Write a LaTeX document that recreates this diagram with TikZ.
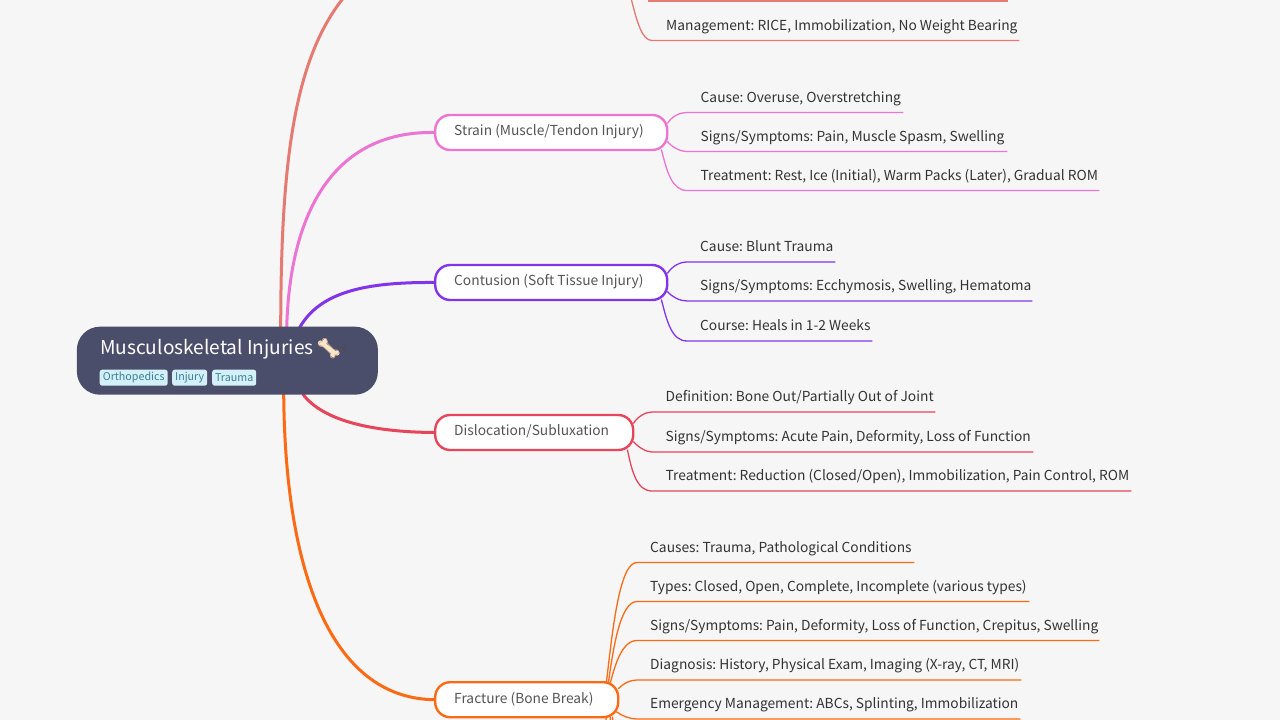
\documentclass[tikz,border=0pt]{standalone}
\usepackage{fontspec}
\setmainfont{Noto Sans CJK SC}
\newfontfamily\emojifont{Noto Emoji}
\newfontfamily\symfont{DejaVu Sans}
\usetikzlibrary{calc}
\definecolor{bgc}{HTML}{F6F6F6}
\definecolor{rootc}{HTML}{4B4E6A}
\definecolor{tagc}{HTML}{D3F0F8}
\definecolor{tagt}{HTML}{3C7F96}
\definecolor{salm}{HTML}{E57A72}
\definecolor{pinkc}{HTML}{EC74D3}
\definecolor{purp}{HTML}{8134EA}
\definecolor{redc}{HTML}{E6455A}
\definecolor{oran}{HTML}{FD6A13}
\definecolor{leaft}{HTML}{333333}
\definecolor{brt}{HTML}{555555}
\definecolor{bonec}{HTML}{F6E6CC}
\definecolor{bonel}{HTML}{E3B98E}
\frenchspacing
\tikzset{
  x=1pt,y=-1pt,
  rootbox/.style={fill=rootc,rounded corners=23pt,minimum width=301pt,minimum height=68pt,inner sep=0pt,anchor=north west},
  tagbox/.style={fill=tagc,rounded corners=2.5pt,minimum height=16pt,inner sep=0pt,anchor=north west,text=tagt,font=\fontsize{10.7}{12}\selectfont},
  branch/.style={draw=#1,line width=2.4pt,fill=white,rounded corners=15pt,minimum height=35pt,inner sep=0pt,anchor=north west},
  brtext/.style={anchor=base west,inner sep=0pt,text=brt,font=\fontsize{13.78}{16}\selectfont},
  leaf/.style={inner sep=0pt,anchor=south west,text=leaft,text height=14pt,text depth=10pt,font=\fontsize{13.78}{16}\selectfont},
  main/.style={draw=#1,line width=3pt},
  sub/.style={draw=#1,line width=1.3pt},
}
\newcommand{\lf}[6]{\node[leaf] (#1) at (#2,#3) {\makebox[#4pt][l]{\hspace*{#5pt}#6}};}
\begin{document}
\begin{tikzpicture}
\useasboundingbox (0,0) rectangle (1280,720);
\clip (0,0) rectangle (1280,720);
\fill[bgc] (0,0) rectangle (1280,720);

% positions of hidden ends
\coordinate (topend) at (345,-4);
\coordinate (m0s) at (648,1);
\coordinate (m0e) at (1008,1);
\coordinate (fx1) at (612,740);
\coordinate (fx2) at (620,745);
\coordinate (fx3) at (605,745);

% leaves
\lf{m1}{652}{40.5}{367}{14}{Management: RICE, Immobilization, No Weight Bearing}
\lf{s1}{687}{112.5}{216}{13.5}{Cause: Overuse, Overstretching}
\lf{s2}{687}{151.5}{320}{13.5}{Signs/Symptoms: Pain, Muscle Spasm, Swelling}
\lf{s3}{687}{190.5}{412}{13.5}{Treatment: Rest, Ice (Initial), Warm Packs (Later), Gradual ROM}
\lf{c1}{687}{262}{148}{13}{Cause: Blunt Trauma}
\lf{c2}{687}{301}{345}{13}{Signs/Symptoms: Ecchymosis, Swelling, Hematoma}
\lf{c3}{687}{341}{185}{13}{Course: Heals in 1-2 Weeks}
\lf{d1}{652}{412}{283}{13.5}{Definition: Bone Out/Partially Out of Joint}
\lf{d2}{652}{452}{381}{13.5}{Signs/Symptoms: Acute Pain, Deformity, Loss of Function}
\lf{d3}{652}{491}{479}{13.5}{Treatment: Reduction (Closed/Open), Immobilization, Pain Control, ROM}
\lf{f1}{637}{562.5}{277}{13}{Causes: Trauma, Pathological Conditions}
\lf{f2}{637}{601.5}{392}{13}{Types: Closed, Open, Complete, Incomplete (various types)}
\lf{f3}{637}{640.5}{462}{13}{Signs/Symptoms: Pain, Deformity, Loss of Function, Crepitus, Swelling}
\lf{f4}{637}{680}{384}{13}{Diagnosis: History, Physical Exam, Imaging (X-ray, CT, MRI)}
\lf{f5}{637}{719}{383}{13}{Emergency Management: ABCs, Splinting, Immobilization}

% invisible placement nodes for parents, so connectors can be drawn first
\path (76.7,326.5) node[rootbox,fill=none] (root) {};
\path (434,113.8) node[branch=none,minimum width=232pt] (strain) {};
\path (434,263.8) node[branch=none,minimum width=232pt] (contusion) {};
\path (434,413.8) node[branch=none,minimum width=198pt] (disloc) {};
\path (434,681) node[branch=none,minimum width=183pt] (fracture) {};

% connectors: root to branches
\draw[main=salm] ([xshift=204pt,yshift=-1pt]root.north west) .. controls (281,170) and (292,60) .. (topend);
\draw[main=pinkc] ([xshift=210pt,yshift=-1pt]root.north west) .. controls (290,210) and (335,131) .. (strain.west);
\draw[main=purp] ([xshift=223pt,yshift=-1pt]root.north west) .. controls (320,292) and (365,282) .. (contusion.west);
\draw[main=redc] ([xshift=226pt,yshift=1pt]root.south west) .. controls (322,420) and (370,432) .. (disloc.west);
\draw[main=oran] ([xshift=207pt,yshift=1pt]root.south west) .. controls (285,570) and (330,698) .. (fracture.west);

% connectors: branches to leaves
\draw[sub=salm] (631,-2) .. controls (637,22) and (642,40.5) .. (m1.south west) -- (m1.south east);
\draw[sub=salm] (m0s) -- (m0e);
\draw[sub=pinkc] ([xshift=-1pt,yshift=9pt]strain.east) .. controls (672,116) and (680,112.5) .. (s1.south west) -- (s1.south east);
\draw[sub=pinkc] ([xshift=-1pt,yshift=-9pt]strain.east) .. controls (672,147) and (680,151.5) .. (s2.south west) -- (s2.south east);
\draw[sub=pinkc] ([xshift=-7pt,yshift=-17pt]strain.east) .. controls (667,172) and (672,190.5) .. (s3.south west) -- (s3.south east);
\draw[sub=purp] ([xshift=-1pt,yshift=9pt]contusion.east) .. controls (672,266) and (680,262) .. (c1.south west) -- (c1.south east);
\draw[sub=purp] ([xshift=-1pt,yshift=-9pt]contusion.east) .. controls (672,297) and (680,301) .. (c2.south west) -- (c2.south east);
\draw[sub=purp] ([xshift=-7pt,yshift=-17pt]contusion.east) .. controls (667,322) and (672,341) .. (c3.south west) -- (c3.south east);
\draw[sub=redc] ([xshift=-1pt,yshift=9pt]disloc.east) .. controls (638,416) and (646,412) .. (d1.south west) -- (d1.south east);
\draw[sub=redc] ([xshift=-1pt,yshift=-9pt]disloc.east) .. controls (638,447) and (646,452) .. (d2.south west) -- (d2.south east);
\draw[sub=redc] ([xshift=-7pt,yshift=-17pt]disloc.east) .. controls (632,472) and (637,491) .. (d3.south west) -- (d3.south east);
\draw[sub=oran] ([xshift=-13pt,yshift=17pt]fracture.east) .. controls (613,625) and (620,562.5) .. (f1.south west) -- (f1.south east);
\draw[sub=oran] ([xshift=-11pt,yshift=17pt]fracture.east) .. controls (613,650) and (620,601.5) .. (f2.south west) -- (f2.south east);
\draw[sub=oran] ([xshift=-9pt,yshift=17pt]fracture.east) .. controls (615,665) and (622,640.5) .. (f3.south west) -- (f3.south east);
\draw[sub=oran] ([xshift=-1pt,yshift=11pt]fracture.east) .. controls (624,683) and (630,680) .. (f4.south west) -- (f4.south east);
\draw[sub=oran] ([xshift=-3pt,yshift=-12pt]fracture.east) .. controls (622,716) and (630,719) .. (f5.south west) -- (f5.south east);
\draw[sub=oran] ([xshift=-9pt,yshift=-17pt]fracture.east) .. controls (610,725) and (611,732) .. (fx1);
\draw[sub=oran] ([xshift=-7pt,yshift=-17pt]fracture.east) .. controls (613,725) and (616,732) .. (fx2);
\draw[sub=oran] ([xshift=-13pt,yshift=-17pt]fracture.east) .. controls (605,725) and (605,732) .. (fx3);

% visible parents on top
\node[rootbox] at (root.north west) {};
\node[branch=pinkc,minimum width=232pt] at (strain.north west) {};
\node[branch=purp,minimum width=232pt] at (contusion.north west) {};
\node[branch=redc,minimum width=198pt] at (disloc.north west) {};
\node[branch=oran,minimum width=183pt] at (fracture.north west) {};

\node[brtext] (strainT) at (454,135) {Strain (Muscle/Tendon Injury)};
\node[brtext] (contT) at (454,285) {Contusion (Soft Tissue Injury)};
\node[brtext] (dislT) at (454,435) {Dislocation/Subluxation};
\node[brtext] (fracT) at (454,703) {Fracture (Bone Break)};

% root content
\node[anchor=base west,inner sep=0pt,text=white,font=\fontsize{19.1}{22}\selectfont] (title) at (100,354) {Musculoskeletal Injuries};
\fill[bonec] (320.5,343) circle (2.6) (325,341.5) circle (2.6) (333,354.5) circle (2.6) (337,353) circle (2.6);
\draw[bonec,line width=4.6pt] (322.5,343.5) -- (335,353.5);
\node[anchor=base west,inner sep=0pt,text=bonel,font=\emojifont\fontsize{20}{22}\selectfont] (bone) at (316,355) {🦴};
\node[anchor=base west,inner sep=0pt,text=black!70,font=\symfont\fontsize{11}{12}\selectfont] (cad) at (341,353) {⚕};
\node[tagbox,minimum width=68pt] (t1) at (99.5,369.5) {\raisebox{-1pt}{Orthopedics}};
\node[tagbox,minimum width=35pt] (t2) at (172,369.5) {\raisebox{-1pt}{Injury}};
\node[tagbox,minimum width=44pt] (t3) at (212,369.5) {\raisebox{-1pt}{Trauma}};
\end{tikzpicture}
\end{document}
